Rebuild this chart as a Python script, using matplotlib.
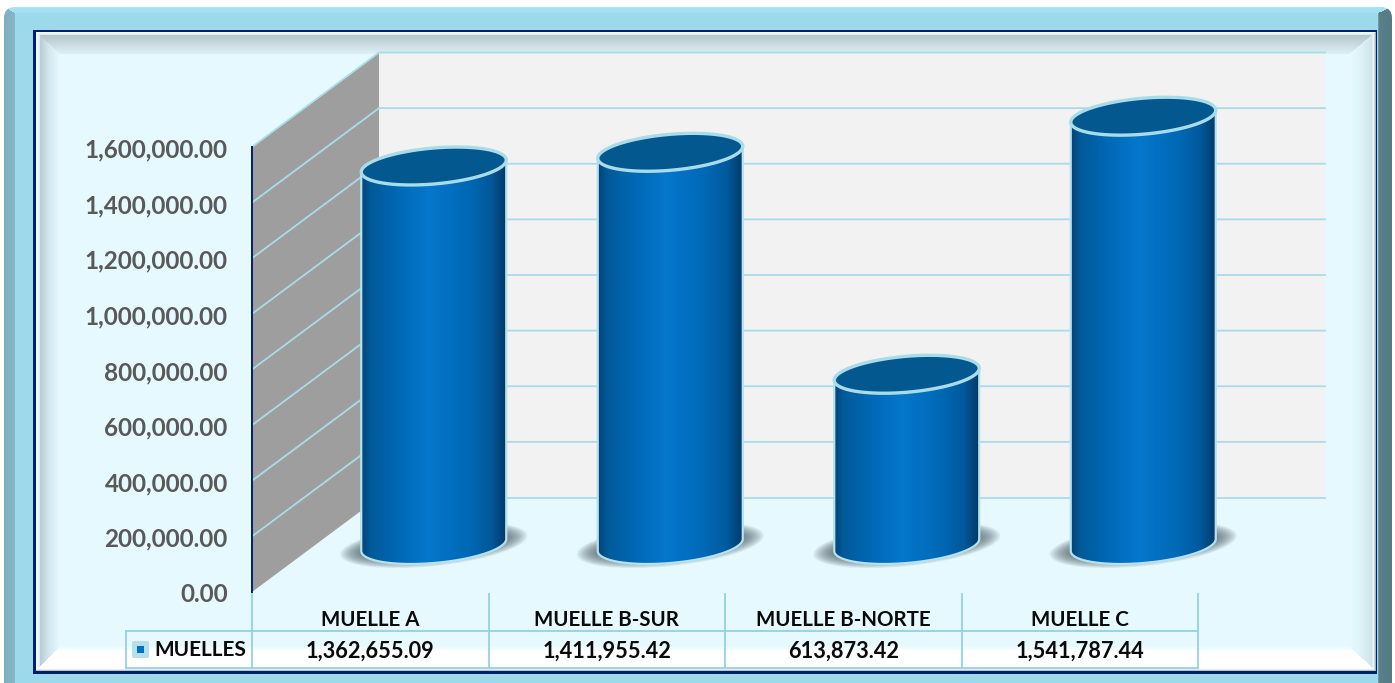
import numpy as np
import matplotlib
matplotlib.use("Agg")
import matplotlib.pyplot as plt
from matplotlib.patches import Polygon, Ellipse, Rectangle, FancyBboxPatch
from matplotlib.colors import to_rgb
from matplotlib.transforms import Affine2D

# Data
categorias = ["MUELLE A", "MUELLE B-SUR", "MUELLE B-NORTE", "MUELLE C"]
valores = [1362655.09, 1411955.42, 613873.42, 1541787.44]
y_ticks = [0, 200000, 400000, 600000, 800000, 1000000, 1200000, 1400000, 1600000]
serie = "MUELLES"

W, H = 1395, 683
LINEA = "#a9dce9"
TABLA = "#93d2e2"
FUENTE = ["Lato", "DejaVu Sans"]

fig = plt.figure(figsize=(W / 100, H / 100), dpi=100, facecolor="white")

# pixel canvas for the frame and the fake 3D work
fr = fig.add_axes([0, 0, 1, 1], zorder=0)
fr.set_xlim(0, W)
fr.set_ylim(H, 0)
fr.axis("off")

# the real scale of the chart (front plane of the 3D box)
ax = fig.add_axes([252 / W, (H - 592) / H, 946 / W, 445 / H], zorder=1)
ax.patch.set_visible(False)
ax.set_xlim(0, len(categorias))
ax.set_ylim(y_ticks[0], y_ticks[-1])


def to_px(x, v):
    d = ax.transData.transform((x, v))
    return d[0], H - d[1]


def ramp(t, stops):
    pos = [s[0] for s in stops]
    return np.stack([np.interp(t, pos, [to_rgb(s[1])[c] for s in stops]) for c in range(3)], axis=-1)


def bevel(x0, y0, x1, y1, widths, ramps, centro, **kw):
    # mitred bevel, one ramp per side (left, top, right, bottom)
    xs, ys = np.meshgrid(np.arange(x0, x1) + .5, np.arange(y0, y1) + .5)
    d = np.stack([(xs - x0) / widths[0], (ys - y0) / widths[1],
                  (x1 - xs) / widths[2], (y1 - ys) / widths[3]])
    side = d.argmin(axis=0)
    t = np.clip(d.min(axis=0), 0, 1)
    img = np.zeros(xs.shape + (3,))
    for i in range(4):
        img[side == i] = ramp(t, ramps[i])[side == i]
    img[t >= 1] = to_rgb(centro)
    return fr.imshow(img, extent=(x0, x1, y1, y0), aspect="auto", interpolation="bilinear", **kw)


# outer frame
azul = "#9cd9ea"
im = bevel(4, 7, 1392, 686, (11, 6, 14, 1),
           [[(0, "#7fb0bf"), (.95, "#84b6c5"), (1, azul)],
            [(0, "#a6e4f6"), (.95, "#a2e0f2"), (1, azul)],
            [(0, "#567a83"), (.95, "#5c808a"), (1, azul)],
            [(0, azul), (1, azul)]], azul, zorder=1)
caja = FancyBboxPatch((4, 7), 1388, 690, boxstyle="round,pad=0,rounding_size=11",
                      transform=fr.transData, fc="none", ec="none")
fr.add_patch(caja)
im.set_clip_path(caja)
fr.add_patch(Rectangle((33, 30), 1344, 643.5, fc="#00206b", ec="none", zorder=2))

# inner panel with the bevel
base = "#e6faff"
bevel(35.5, 33, 1375, 671.5, (24, 22, 26, 24),
      [[(0, "#eef8fb"), (.14, "#e8f4f7"), (.18, "#b9cdd3"), (.5, "#d0e6ec"), (1, base)],
       [(0, "#f2fbfd"), (.1, "#eaf6f9"), (.16, "#b7c7cc"), (.55, "#c8dbe0"), (1, "#dcf2f7")],
       [(0, "#aab4b8"), (.08, "#f0fafc"), (.14, "#cfe5eb"), (.6, "#dff4f9"), (1, base)],
       [(0, "#b9c4c8"), (.06, "#ffffff"), (.8, "#ffffff"), (1, base)]], base, zorder=3)

fr.set_xlim(0, W)
fr.set_ylim(H, 0)

# 3D box: back wall and side wall
DX, DY = 127, 94.5
x0, y_bot = to_px(0, y_ticks[0])
x4, y_top = to_px(len(categorias), y_ticks[-1])
fr.add_patch(Polygon([(x0 + DX, y_top - DY), (x4 + DX, y_top - DY), (x4 + DX, y_bot - DY), (x0 + DX, y_bot - DY)],
                     fc="#f2f2f2", ec="none", zorder=4))
fr.add_patch(Polygon([(x0, y_top), (x0 + DX, y_top - DY), (x0 + DX, y_bot - DY), (x0, y_bot)],
                     fc="#9e9e9e", ec="none", zorder=4))
for t in y_ticks:
    _, yy = to_px(0, t)
    if t == y_ticks[0]:
        fr.plot([x0 + DX, x4 + DX], [yy - DY, yy - DY], color=LINEA, lw=1.3, zorder=5)
    else:
        fr.plot([x0, x0 + DX, x4 + DX], [yy, yy - DY, yy - DY], color=LINEA, lw=1.3, zorder=5,
                solid_joinstyle="miter")

# cylinders
azules = [(0, "#04437a"), (.06, "#025a98"), (.25, "#0068b5"), (.47, "#0577cc"), (.75, "#0068b5"),
          (.9, "#02589a"), (1, "#033a6a")]
MEDIO = 72.5
for i, v in enumerate(valores):
    cx, yb = to_px(i + .5, 0)
    _, yt = to_px(i + .5, v)
    cx, yb, yt = cx + DX / 2, yb - 47, yt - 47

    for k in range(14):
        fr.add_patch(Ellipse((cx, yb), 188 - 3.4 * k, 42 - 1.6 * k, angle=-6, fc="#4c5a5e",
                             ec="none", alpha=.085, zorder=6))

    s = np.linspace(0, np.pi, 60)
    lower_x, lower_y = cx + MEDIO * np.cos(s), yb - 6 * np.cos(s) + 18 * np.sin(s)
    s2 = np.linspace(np.pi, 2 * np.pi, 60)
    upper_x, upper_y = cx + MEDIO * np.cos(s2), yt - 6 * np.cos(s2) + 18 * np.sin(s2)
    puntos = np.column_stack([np.r_[lower_x, upper_x], np.r_[lower_y, upper_y]])

    cuerpo = Polygon(puntos, closed=True, fc="none", ec="#b5e2ec", lw=1.6, zorder=8)
    fr.add_patch(cuerpo)
    grad = ramp(np.linspace(0, 1, 150), azules)[None, :, :]
    g = fr.imshow(grad, extent=(cx - MEDIO, cx + MEDIO, yb + 25, yt - 25), aspect="auto", zorder=7)
    g.set_clip_path(Polygon(puntos, closed=True, transform=fr.transData))

    s3 = np.linspace(0, 2 * np.pi, 120)
    tapa = np.column_stack([cx + MEDIO * np.cos(s3), yt - 6 * np.cos(s3) + 18 * np.sin(s3)])
    fr.add_patch(Polygon(tapa, closed=True, fc="#03588f", ec=LINEA, lw=2.4, zorder=9))

fr.set_xlim(0, W)
fr.set_ylim(H, 0)

# axis
ax.set_yticks(y_ticks)
ax.set_yticklabels([f"{t:,.2f}" for t in y_ticks], family=FUENTE, fontweight="bold", fontsize=17.5, color="#595959")
ax.set_xticks(np.arange(len(categorias)) + .5)
ax.set_xticklabels(categorias, family=FUENTE, fontweight="bold", fontsize=14.8, color="#0a0a0a")
ax.tick_params(axis="y", length=0, pad=17.5)
ax.tick_params(axis="x", length=0, pad=13)
for lbl in ax.get_yticklabels():
    lbl.set_transform(lbl.get_transform() + Affine2D().translate(0, -1))
for lado in ["top", "right", "bottom"]:
    ax.spines[lado].set_visible(False)
ax.spines["left"].set_color("#00206b")
ax.spines["left"].set_linewidth(1.4)

# data table under the chart
for i in range(len(categorias) + 1):
    xt, _ = to_px(i, 0)
    fr.plot([xt, xt], [594, 668], color=TABLA, lw=1.3, zorder=10)
fr.plot([126, 126], [631, 668], color=TABLA, lw=1.3, zorder=10)
fr.plot([126, x4], [631, 631], color=TABLA, lw=1.3, zorder=10)
fr.plot([126, x4], [668, 668], color=TABLA, lw=1.3, zorder=10)
for i, v in enumerate(valores):
    xt, _ = to_px(i + .5, 0)
    fr.text(xt, 651, f"{v:,.2f}", ha="center", va="center", family=FUENTE, fontweight="bold",
            fontsize=15.7, color="#0a0a0a", zorder=11)

# legend key
fr.add_patch(FancyBboxPatch((132, 641), 17, 17, boxstyle="round,pad=0,rounding_size=2", fc="#b5dfea",
                            ec="none", zorder=11))
fr.add_patch(Rectangle((137, 646), 7, 7, fc="#0070c0", ec="none", zorder=12))
fr.text(154, 650, serie, ha="left", va="center", family=FUENTE, fontweight="bold", fontsize=15,
        color="#0a0a0a", zorder=11)

fig.savefig("out.png", dpi=100)
